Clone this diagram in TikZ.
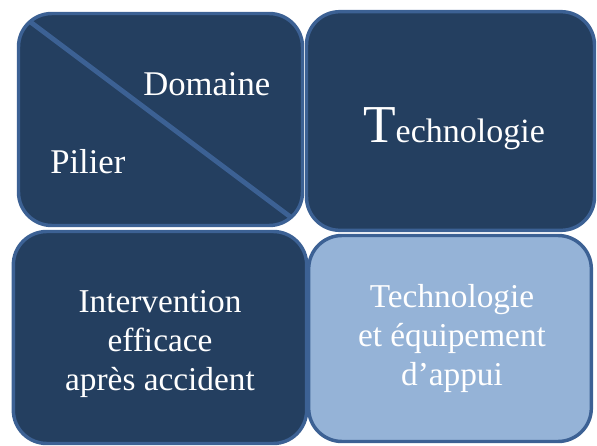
\documentclass[tikz,border=0pt]{standalone}
\usepackage{fontspec}
\setmainfont{Liberation Serif}

\definecolor{navy}{HTML}{243F60}
\definecolor{rim}{HTML}{3C6194}
\definecolor{sky}{HTML}{95B3D7}

\begin{document}
\begin{tikzpicture}[
    x=0.75pt, y=-0.75pt,
    tile/.style={rectangle, draw=rim, line width=2.6pt, fill=navy,
        rounded corners=25pt, inner sep=0pt},
    word/.style={text=white, inner sep=0pt, font=\fontsize{26}{30}\selectfont},
    block/.style={text=white, inner sep=0pt, align=center,
        font=\fontsize{25}{28.9}\selectfont}
]
    \useasboundingbox (0,0) rectangle (597,446);

    % the four tiles
    \node[tile, minimum width=213pt, minimum height=159pt] (coin) at (160.5, 119.5) {};
    \draw[rim, line width=3.6pt, shorten <=12pt, shorten >=12pt]
        (coin.north west) -- (coin.south east);
    \node[tile, minimum width=216pt, minimum height=164pt] (techno) at (450.5, 121) {};
    \node[tile, minimum width=220pt, minimum height=159pt] (secours) at (160, 337.5) {};
    \node[tile, fill=sky, minimum width=212pt, minimum height=154.5pt] (appui) at (450, 338.5) {};

    % texts
    \node[word, anchor=base west] (domaine) at (143, 95) {Domaine};
    \node[word, anchor=base west] (pilier) at (50, 173) {Pilier};
    \node[word, anchor=base] (technologie) at (454, 142)
        {{\fontsize{40}{40}\selectfont T}\fontsize{25.5}{30}\selectfont echnologie};
    \node[block] (intervention) at (160, 344) {Intervention\\efficace\\après accident};
    \node[block] (equipement) at (452, 338.5) {Technologie\\et équipement\\d’appui};
\end{tikzpicture}
\end{document}
